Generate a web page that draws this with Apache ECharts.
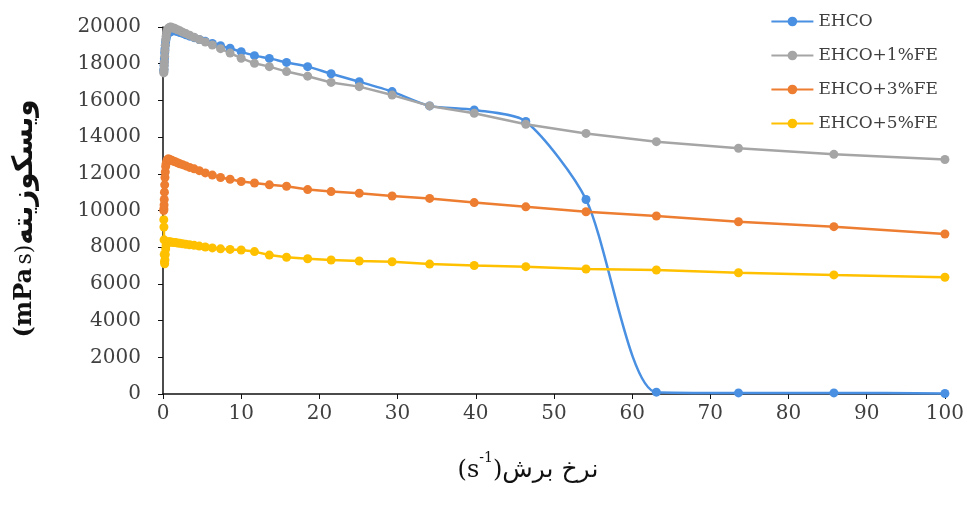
<!DOCTYPE html>
<html>
<head>
<meta charset="utf-8">
<script src="https://cdn.jsdelivr.net/npm/echarts@6/dist/echarts.min.js"></script>
<style>html,body{margin:0;padding:0;background:#fff;}#c{width:967px;height:512px;}</style>
</head>
<body>
<div id="c"></div>
<script>
const shearRate = [0.1, 0.117, 0.136, 0.158, 0.185, 0.215, 0.251, 0.293, 0.341, 0.398, 0.464, 0.541, 0.631, 0.736, 0.858,
  1.0, 1.17, 1.36, 1.58, 1.85, 2.15, 2.51, 2.93, 3.41, 3.98, 4.64, 5.41, 6.31, 7.36, 8.58,
  10.0, 11.7, 13.6, 15.8, 18.5, 21.5, 25.1, 29.3, 34.1, 39.8, 46.4, 54.1, 63.1, 73.6, 85.8, 100];

const seriesNames = ['EHCO', 'EHCO+1%FE', 'EHCO+3%FE', 'EHCO+5%FE'];

const ehco = [17600, 17700, 17900, 18100, 18300, 18600, 18800, 19000, 19200, 19350, 19500, 19600, 19650, 19700, 19720,
  19750, 19800, 19800, 19780, 19750, 19700, 19650, 19580, 19500, 19420, 19320, 19220, 19100, 18980, 18840,
  18650, 18440, 18290, 18070, 17840, 17450, 17020, 16480, 15700, 15480, 14850, 10600, 100, 60, 60, 30];

const ehco1 = [17500, 17550, 17700, 17900, 18100, 18400, 18700, 19000, 19300, 19500, 19700, 19800, 19900, 19950, 19980,
  20000, 19950, 19950, 19900, 19850, 19800, 19720, 19640, 19550, 19440, 19320, 19180, 19020, 18820, 18580,
  18300, 18020, 17840, 17570, 17320, 16980, 16750, 16290, 15700, 15300, 14700, 14200, 13750, 13390, 13060, 12780];

const ehco3 = [10000, 10100, 10300, 10600, 11000, 11400, 11800, 12100, 12400, 12550, 12650, 12750, 12800, 12800, 12780,
  12750, 12720, 12680, 12650, 12600, 12550, 12500, 12430, 12350, 12270, 12170, 12050, 11930, 11800, 11700,
  11580, 11500, 11400, 11320, 11140, 11030, 10940, 10790, 10660, 10430, 10200, 9930, 9700, 9390, 9120, 8720];

const ehco5 = [9500, 9100, 8400, 7600, 7200, 7100, 7300, 7600, 7900, 8100, 8200, 8250, 8280, 8300, 8290,
  8280, 8270, 8260, 8250, 8230, 8210, 8190, 8160, 8130, 8100, 8060, 8010, 7960, 7910, 7880,
  7850, 7760, 7570, 7450, 7370, 7300, 7250, 7210, 7080, 7000, 6940, 6810, 6760, 6610, 6490, 6360];

const colors = ['#4A90E2', '#A5A5A5', '#ED7D31', '#FFC000'];
const allValues = [ehco, ehco1, ehco3, ehco5];

function pairs(vals) { return shearRate.map((x, i) => [x, vals[i]]); }

const chart = echarts.init(document.getElementById('c'), null, {renderer: 'canvas'});
const serif = 'DejaVu Serif';
chart.setOption({
  animation: false,
  backgroundColor: '#fff',
  grid: {left: 163, right: 22, top: 27, bottom: 118},
  legend: {
    orient: 'vertical', right: 24, top: 8, itemGap: 17, itemWidth: 42, itemHeight: 12,
    data: seriesNames,
    textStyle: {fontFamily: serif, fontSize: 17, color: '#404040'}
  },
  xAxis: {
    type: 'value', min: 0, max: 100, interval: 10,
    axisLine: {lineStyle: {color: '#111', width: 1.5}},
    axisTick: {show: true, inside: false, length: 5, lineStyle: {color: '#111'}},
    splitLine: {show: false},
    axisLabel: {fontFamily: serif, fontSize: 20, color: '#404040', margin: 10},
    name: '{p|(s}{sup|-1}{p|)}{f|نرخ برش}',
    nameLocation: 'middle', nameGap: 57,
    nameTextStyle: {
      padding: [0, 52, 0, 0],
      rich: {
        p: {fontFamily: serif, fontSize: 24, color: '#111', verticalAlign: 'bottom', lineHeight: 32},
        sup: {fontFamily: serif, fontSize: 14, color: '#111', verticalAlign: 'top', lineHeight: 32},
        f: {fontFamily: 'DejaVu Sans', fontSize: 25, color: '#111', verticalAlign: 'bottom', lineHeight: 32}
      }
    }
  },
  yAxis: {
    type: 'value', min: 0, max: 20000, interval: 2000,
    axisLine: {show: true, lineStyle: {color: '#111', width: 1.5}},
    axisTick: {show: true, inside: false, length: 5, lineStyle: {color: '#111'}},
    splitLine: {show: false},
    axisLabel: {fontFamily: serif, fontSize: 20, color: '#404040', margin: 22, formatter: v => String(v)},
    name: '{a|(mPa} {b|s)}{c|ویسکوزیته}',
    nameLocation: 'middle', nameGap: 124,
    nameTextStyle: {
      padding: [0, 16, 0, 0],
      rich: {
        a: {fontFamily: serif, fontSize: 24, fontWeight: 'bold', color: '#111'},
        b: {fontFamily: serif, fontSize: 22, color: '#111'},
        c: {fontFamily: 'DejaVu Sans', fontSize: 28, fontWeight: 'bold', color: '#111'}
      }
    }
  },
  series: seriesNames.map((n, k) => ({
    name: n, type: 'line', data: pairs(allValues[k]),
    symbol: 'circle', symbolSize: 9, smooth: k === 0 ? 0.25 : false,
    itemStyle: {color: colors[k]},
    lineStyle: {color: colors[k], width: 2.5}
  }))
});
</script>
</body>
</html>
